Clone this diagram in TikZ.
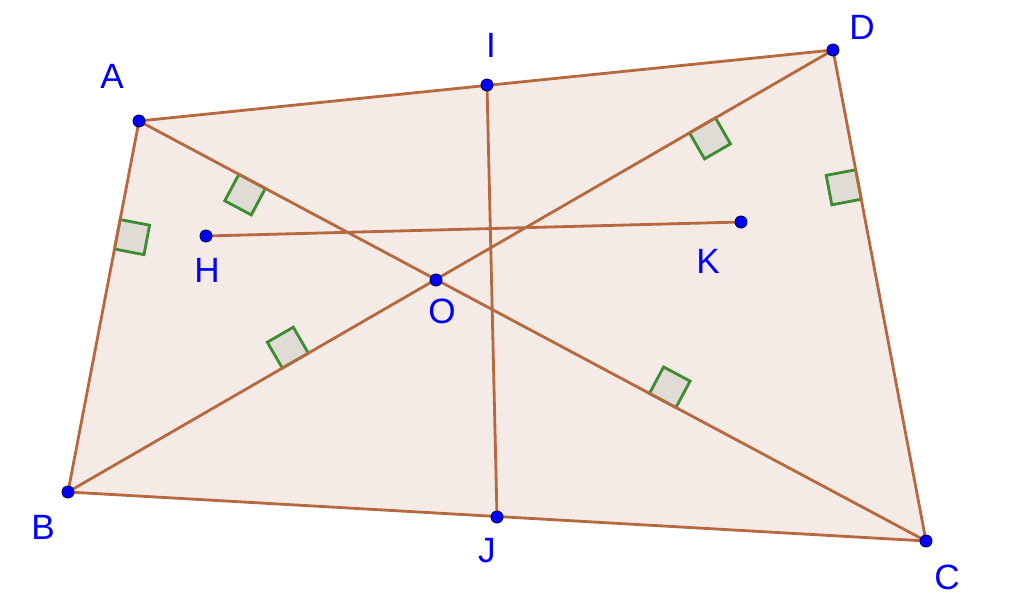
\documentclass[tikz,border=0pt]{standalone}
\usepackage{fontspec}
\setmainfont{Liberation Sans}
\usepackage{xcolor}
\usetikzlibrary{calc,positioning}

\definecolor{quadline}{RGB}{183,104,62}
\definecolor{quadfill}{RGB}{244,234,230}
\definecolor{markline}{RGB}{62,140,50}
\definecolor{markfill}{RGB}{222,220,212}
\definecolor{ptblue}{RGB}{0,0,255}

\newcommand{\rsz}{0.6cm}
% right angle mark at the foot of #3 on line #1--#2
\newcommand{\rmark}[4]{%
  \coordinate (#4f) at ($(#1)!(#3)!(#2)$);
  \coordinate (#4a) at ($(#4f)!\rsz!(#2)$);
  \coordinate (#4b) at ($(#4f)!\rsz!(#3)$);
  \filldraw[rangle] (#4f) -- (#4a) -- ($(#4a)+(#4b)-(#4f)$) -- (#4b) -- cycle;
}

\begin{document}
\begin{tikzpicture}[x=0.02cm, y=-0.02cm,
  seg/.style={draw=quadline, line width=1.6pt, line join=round},
  rangle/.style={draw=markline, fill=markfill, line width=1.6pt},
  pt/.style={circle, fill=ptblue, draw=black!70!blue, line width=0.5pt, inner sep=0pt, minimum size=0.24cm},
  lbl/.style={text=ptblue, font=\fontsize{20}{24}\selectfont, inner sep=0pt}]

  \useasboundingbox (0,0) rectangle (1024,605);

  % points
  \coordinate (A) at (139,121);
  \coordinate (B) at (68,492);
  \coordinate (C) at (926,541);
  \coordinate (D) at (833,50);
  \coordinate (I) at (487,85);
  \coordinate (J) at (497,517);
  \coordinate (O) at (436,280);
  \coordinate (H) at (206,236);
  \coordinate (K) at (741,222);

  % quadrilateral
  \fill[quadfill] (A) -- (B) -- (C) -- (D) -- cycle;

  % right angles
  \rmark{A}{B}{H}{mhab}
  \rmark{A}{C}{H}{mhac}
  \rmark{B}{D}{H}{mhbd}
  \rmark{A}{C}{K}{mkac}
  \rmark{B}{D}{K}{mkbd}
  \rmark{C}{D}{K}{mkcd}

  % segments
  \path[seg] (A) -- (B) -- (C) -- (D) -- cycle;
  \path[seg]
    (A) -- (C)
    (B) -- (D)
    (I) -- (J)
    (H) -- (K);

  % dots
  \foreach \p in {A,B,C,D,I,J,O,H,K}
    \node[pt] (pt\p) at (\p) {};

  % labels
  \node[lbl] (lA) at ([shift={(-27,-45)}]A) {A};
  \node[lbl] (lB) at ([shift={(-25,35)}]B) {B};
  \node[lbl] (lC) at ([shift={(21,36)}]C) {C};
  \node[lbl] (lD) at ([shift={(29,-23)}]D) {D};
  \node[lbl] (lI) at ([shift={(4,-40)}]I) {I};
  \node[lbl] (lJ) at ([shift={(-10,34)}]J) {J};
  \node[lbl] (lO) at ([shift={(6,31)}]O) {O};
  \node[lbl] (lH) at ([shift={(1,34)}]H) {H};
  \node[lbl] (lK) at ([shift={(-33,39)}]K) {K};

\end{tikzpicture}
\end{document}
